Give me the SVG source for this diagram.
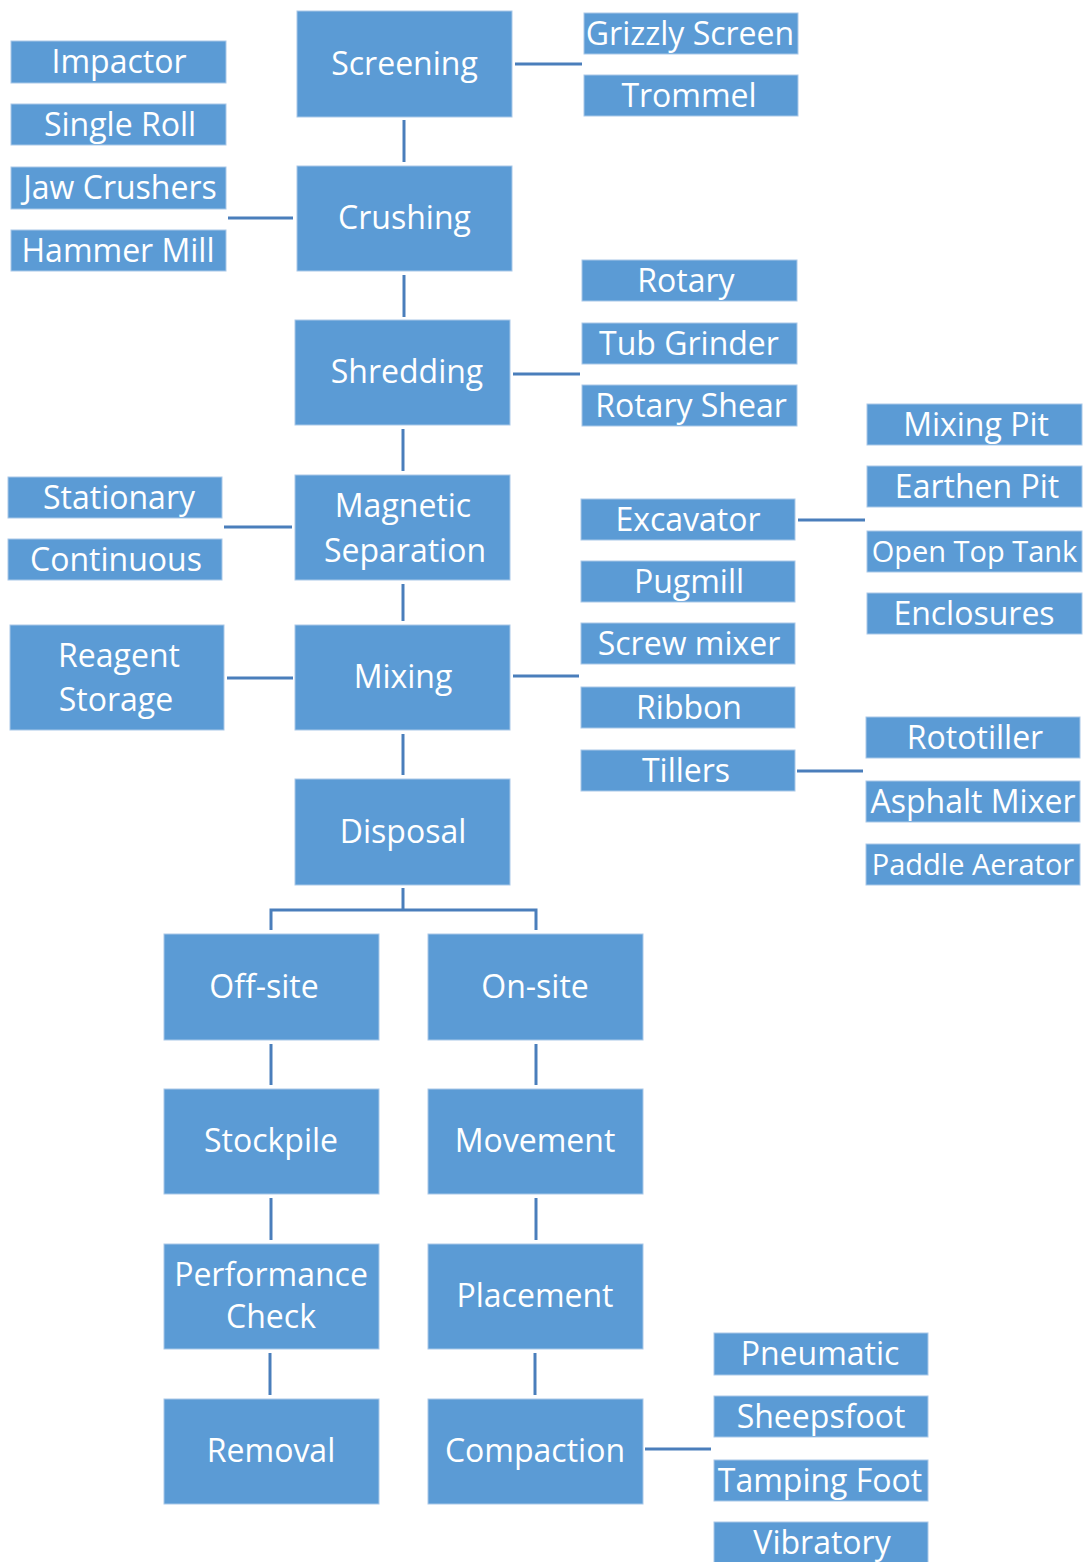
<svg xmlns="http://www.w3.org/2000/svg" width="1085" height="1562" viewBox="0 0 1085 1562">
  <style>
    .box { fill: #5B9BD5; stroke: #A9C8E8; stroke-width: 1; }
    .lbl { fill: #FFFFFF; font-family: "Open Sans", "Noto Sans", "Liberation Sans", sans-serif; font-size: 32px; text-anchor: middle; }
    .tight { font-size: 29px; }
    .link { stroke: #4A7EBB; stroke-width: 3; fill: none; }
  </style>
  <rect width="1085" height="1562" fill="#FFFFFF"/>

  <!-- connectors -->
  <g id="connectors">
    <line class="link" x1="515" y1="64" x2="582" y2="64"/>
    <line class="link" x1="404" y1="120" x2="404" y2="162"/>
    <line class="link" x1="228" y1="218" x2="293" y2="218"/>
    <line class="link" x1="404" y1="275" x2="404" y2="317"/>
    <line class="link" x1="513" y1="374" x2="580" y2="374"/>
    <line class="link" x1="403" y1="429" x2="403" y2="471"/>
    <line class="link" x1="224" y1="527" x2="292" y2="527"/>
    <line class="link" x1="403" y1="584" x2="403" y2="621"/>
    <line class="link" x1="227" y1="678" x2="293" y2="678"/>
    <line class="link" x1="513" y1="676" x2="579" y2="676"/>
    <line class="link" x1="403" y1="734" x2="403" y2="775"/>
    <line class="link" x1="798" y1="520" x2="865" y2="520"/>
    <line class="link" x1="797" y1="771" x2="863" y2="771"/>
    <polyline class="link" points="403,888 403,910"/>
    <polyline class="link" points="271,930 271,910 536,910 536,930"/>
    <line class="link" x1="271" y1="1044" x2="271" y2="1085"/>
    <line class="link" x1="536" y1="1044" x2="536" y2="1085"/>
    <line class="link" x1="271" y1="1198" x2="271" y2="1240"/>
    <line class="link" x1="536" y1="1198" x2="536" y2="1240"/>
    <line class="link" x1="270" y1="1353" x2="270" y2="1395"/>
    <line class="link" x1="535" y1="1353" x2="535" y2="1395"/>
    <line class="link" x1="645" y1="1449" x2="711" y2="1449"/>
  </g>

  <!-- main process column -->
  <g id="screening"><rect class="box" x="297" y="11" width="215" height="106"/><text class="lbl" x="404.5" y="75">Screening</text></g>
  <g id="crushing"><rect class="box" x="297" y="166" width="215" height="105"/><text class="lbl" x="404.5" y="229">Crushing</text></g>
  <g id="shredding"><rect class="box" x="295" y="320" width="215" height="105"/><text class="lbl" x="407" y="383">Shredding</text></g>
  <g id="magnetic-separation"><rect class="box" x="295" y="475" width="215" height="105"/><text class="lbl" x="403" y="517">Magnetic</text><text class="lbl" x="405" y="562">Separation</text></g>
  <g id="mixing"><rect class="box" x="295" y="625" width="215" height="105"/><text class="lbl" x="403" y="688">Mixing</text></g>
  <g id="disposal"><rect class="box" x="295" y="779" width="215" height="106"/><text class="lbl" x="403" y="843">Disposal</text></g>

  <!-- disposal branches -->
  <g id="off-site"><rect class="box" x="164" y="934" width="215" height="106"/><text class="lbl" x="264" y="998">Off-site</text></g>
  <g id="on-site"><rect class="box" x="428" y="934" width="215" height="106"/><text class="lbl" x="535" y="998">On-site</text></g>
  <g id="stockpile"><rect class="box" x="164" y="1089" width="215" height="105"/><text class="lbl" x="271" y="1152">Stockpile</text></g>
  <g id="movement"><rect class="box" x="428" y="1089" width="215" height="105"/><text class="lbl" x="535" y="1152">Movement</text></g>
  <g id="performance-check"><rect class="box" x="164" y="1244" width="215" height="105"/><text class="lbl" x="271" y="1286">Performance</text><text class="lbl" x="271" y="1328">Check</text></g>
  <g id="placement"><rect class="box" x="428" y="1244" width="215" height="105"/><text class="lbl" x="535" y="1307">Placement</text></g>
  <g id="removal"><rect class="box" x="164" y="1399" width="215" height="105"/><text class="lbl" x="271" y="1462">Removal</text></g>
  <g id="compaction"><rect class="box" x="428" y="1399" width="215" height="105"/><text class="lbl" x="535" y="1462">Compaction</text></g>

  <!-- crusher types -->
  <g id="impactor"><rect class="box" x="11" y="41" width="215" height="42"/><text class="lbl" x="119" y="73">Impactor</text></g>
  <g id="single-roll"><rect class="box" x="11" y="104" width="215" height="41"/><text class="lbl" x="120" y="136">Single Roll</text></g>
  <g id="jaw-crushers"><rect class="box" x="11" y="167" width="215" height="42"/><text class="lbl" x="120" y="199">Jaw Crushers</text></g>
  <g id="hammer-mill"><rect class="box" x="11" y="230" width="215" height="41"/><text class="lbl" x="118" y="262">Hammer Mill</text></g>

  <!-- screen types -->
  <g id="grizzly-screen"><rect class="box" x="584" y="13" width="214" height="41"/><text class="lbl" x="690" y="45">Grizzly Screen</text></g>
  <g id="trommel"><rect class="box" x="584" y="75" width="214" height="41"/><text class="lbl" x="689" y="107">Trommel</text></g>

  <!-- shredder types -->
  <g id="rotary"><rect class="box" x="582" y="260" width="215" height="41"/><text class="lbl" x="686" y="292">Rotary</text></g>
  <g id="tub-grinder"><rect class="box" x="582" y="323" width="215" height="41"/><text class="lbl" x="689" y="355">Tub Grinder</text></g>
  <g id="rotary-shear"><rect class="box" x="582" y="385" width="215" height="41"/><text class="lbl" x="691" y="417">Rotary Shear</text></g>

  <!-- magnetic separator types -->
  <g id="stationary"><rect class="box" x="8" y="477" width="214" height="41"/><text class="lbl" x="119" y="509">Stationary</text></g>
  <g id="continuous"><rect class="box" x="8" y="539" width="214" height="41"/><text class="lbl" x="116" y="571">Continuous</text></g>

  <g id="reagent-storage"><rect class="box" x="10" y="625" width="214" height="105"/><text class="lbl" x="119" y="667">Reagent</text><text class="lbl" x="116" y="711">Storage</text></g>

  <!-- mixer types -->
  <g id="excavator"><rect class="box" x="581" y="499" width="214" height="41"/><text class="lbl" x="688" y="531">Excavator</text></g>
  <g id="pugmill"><rect class="box" x="581" y="561" width="214" height="41"/><text class="lbl" x="689" y="593">Pugmill</text></g>
  <g id="screw-mixer"><rect class="box" x="581" y="623" width="214" height="41"/><text class="lbl" x="689" y="655">Screw mixer</text></g>
  <g id="ribbon"><rect class="box" x="581" y="687" width="214" height="41"/><text class="lbl" x="689" y="719">Ribbon</text></g>
  <g id="tillers"><rect class="box" x="581" y="750" width="214" height="41"/><text class="lbl" x="686" y="782">Tillers</text></g>

  <!-- excavator mixing locations -->
  <g id="mixing-pit"><rect class="box" x="867" y="404" width="215" height="41"/><text class="lbl" x="976" y="436">Mixing Pit</text></g>
  <g id="earthen-pit"><rect class="box" x="867" y="466" width="215" height="41"/><text class="lbl" x="977" y="498">Earthen Pit</text></g>
  <g id="open-top-tank"><rect class="box" x="867" y="531" width="215" height="41"/><text class="lbl tight" x="974.5" y="562">Open Top Tank</text></g>
  <g id="enclosures"><rect class="box" x="867" y="593" width="215" height="41"/><text class="lbl" x="974" y="625">Enclosures</text></g>

  <!-- tiller types -->
  <g id="rototiller"><rect class="box" x="866" y="717" width="214" height="41"/><text class="lbl" x="975" y="749">Rototiller</text></g>
  <g id="asphalt-mixer"><rect class="box" x="866" y="781" width="214" height="41"/><text class="lbl" x="973" y="813">Asphalt Mixer</text></g>
  <g id="paddle-aerator"><rect class="box" x="866" y="844" width="214" height="41"/><text class="lbl tight" x="973" y="875">Paddle Aerator</text></g>

  <!-- compactor types -->
  <g id="pneumatic"><rect class="box" x="714" y="1333" width="214" height="42"/><text class="lbl" x="820" y="1365">Pneumatic</text></g>
  <g id="sheepsfoot"><rect class="box" x="714" y="1396" width="214" height="41"/><text class="lbl" x="821" y="1428">Sheepsfoot</text></g>
  <g id="tamping-foot"><rect class="box" x="714" y="1460" width="214" height="41"/><text class="lbl" x="820" y="1492">Tamping Foot</text></g>
  <g id="vibratory"><rect class="box" x="714" y="1522" width="214" height="42"/><text class="lbl" x="822" y="1554">Vibratory</text></g>
</svg>
